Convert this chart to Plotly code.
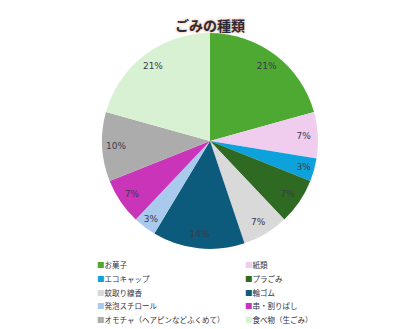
import plotly.graph_objects as go

categories = ["お菓子", "紙類", "エコキャップ", "プラごみ", "蚊取り線香", "輪ゴム",
              "発泡スチロール", "串・割りばし", "オモチャ（ヘアピンなどふくめて）", "食べ物（生ごみ）"]
counts = [6, 2, 1, 2, 2, 4, 1, 2, 3, 6]
colors = ["#4ea932", "#f0cdee", "#0ea2dc", "#2f6a22", "#d9d9d9", "#0d5b7c",
          "#a9c9ed", "#c934b8", "#acacac", "#d9f1d3"]
title_text = "ごみの種類"

W, H = 420, 329
cx, cy, r = 210, 141, 108
dom = dict(x=[(cx - r) / W, (cx + r) / W], y=[1 - (cy + r) / H, 1 - (cy - r) / H])

fig = go.Figure()
fig.add_trace(go.Pie(
    labels=categories, values=counts, sort=False, direction="clockwise", rotation=0,
    marker=dict(colors=colors, line=dict(width=0)), textinfo="none",
    domain=dom, showlegend=False, hoverinfo="label+percent",
))
fig.add_trace(go.Pie(
    labels=categories, values=counts, sort=False, direction="clockwise", rotation=0, hole=0.74,
    marker=dict(colors=["rgba(0,0,0,0)"] * len(counts), line=dict(width=0)),
    texttemplate="%{percent:.0%}", textposition="inside", insidetextorientation="horizontal",
    textfont=dict(family="DejaVu Sans", size=9, color="#3a3a4a"),
    domain=dom, showlegend=False, hoverinfo="skip",
))

annotations = [dict(text="<b>" + title_text + "</b>", x=0.5, y=1 - 13 / H, xref="paper", yref="paper",
                    showarrow=False, font=dict(family="Noto Sans CJK JP", size=14, color="#2a2a3a",
                                               shadow="0px 0px 3px #e89a60"))]
row_y = [264, 278, 292, 305, 319]
col_x = [95, 243]
for i, (lab, col) in enumerate(zip(categories, colors)):
    rr, cc = divmod(i, 2)
    annotations.append(dict(
        text=f"<span style='color:{col}'>■</span>{lab}", x=col_x[cc] / W, y=1 - row_y[rr] / H,
        xref="paper", yref="paper", xanchor="left", yanchor="middle", showarrow=False,
        font=dict(family="Noto Sans CJK JP", size=7.5, color="#333344")))

fig.update_layout(width=W, height=H, margin=dict(l=0, r=0, t=0, b=0),
                  paper_bgcolor="white", plot_bgcolor="white", annotations=annotations)
fig.write_html("out.html")
